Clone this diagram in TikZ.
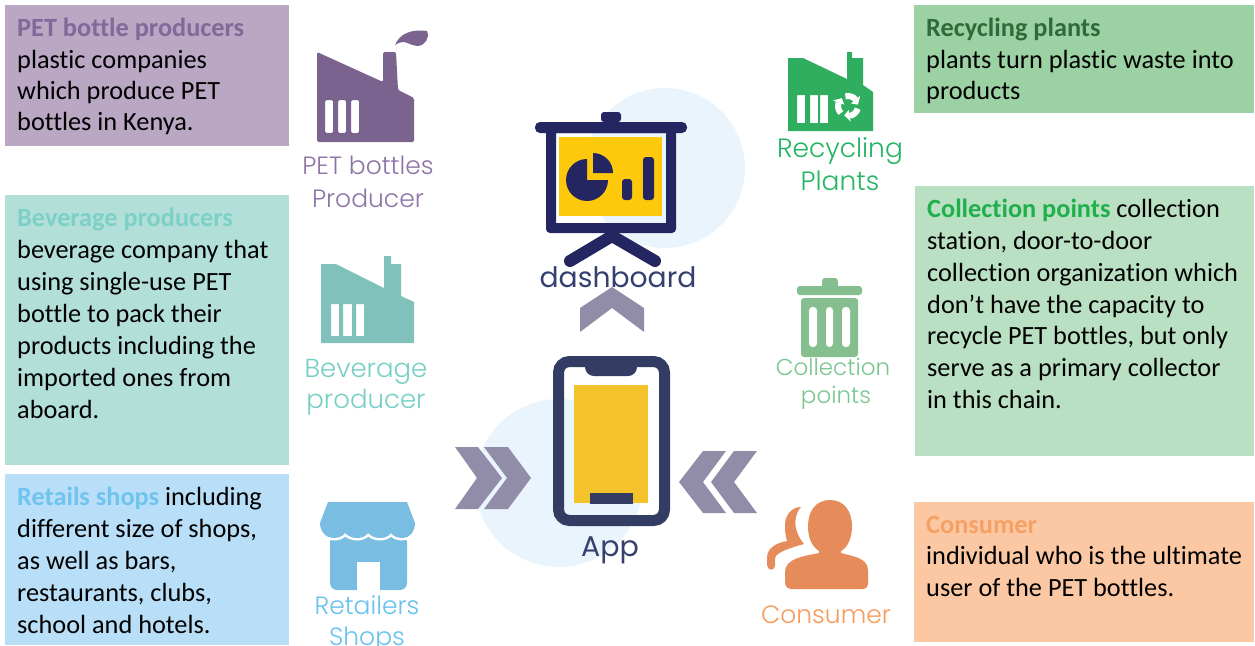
\documentclass[tikz,border=0pt]{standalone}
\usepackage{fontspec}
\setmainfont[Ligatures=NoCommon]{Carlito}
\newfontfamily\lblfont{Poppins Light}
\newfontfamily\lbldark{Poppins}
\definecolor{pPurple}{HTML}{B9A7C4}\definecolor{tPurple}{HTML}{7F6A9A}\definecolor{iPurple}{HTML}{7B6390}\definecolor{lPurple}{HTML}{8E73A6}
\definecolor{pTeal}{HTML}{B2E0D8}\definecolor{tTeal}{HTML}{7CD0C6}\definecolor{iTeal}{HTML}{81C1BB}\definecolor{lTeal}{HTML}{76CFC6}
\definecolor{pBlue}{HTML}{B8DFF7}\definecolor{tBlue}{HTML}{6FC3EE}\definecolor{iBlue}{HTML}{7ABDE3}\definecolor{lBlue}{HTML}{66C2EE}
\definecolor{pGreenA}{HTML}{9CD2A3}\definecolor{tGreenA}{HTML}{2F6B3A}\definecolor{iGreenA}{HTML}{2EAE5E}\definecolor{lGreenA}{HTML}{25B463}
\definecolor{pGreenB}{HTML}{B9E0C2}\definecolor{tGreenB}{HTML}{1FAF4B}\definecolor{iGreenB}{HTML}{85BF8F}\definecolor{lGreenB}{HTML}{79C68F}
\definecolor{pOrange}{HTML}{FBC8A3}\definecolor{tOrange}{HTML}{F5A064}\definecolor{iOrange}{HTML}{E58C5A}\definecolor{lOrange}{HTML}{F79A5B}
\definecolor{navyA}{HTML}{232660}\definecolor{navyB}{HTML}{333D63}\definecolor{dashT}{HTML}{35406F}
\definecolor{haze}{HTML}{EAF4FC}\definecolor{chev}{HTML}{918DA8}
\definecolor{gold}{HTML}{FFC90B}\definecolor{amber}{HTML}{F4C22B}
\tikzset{
 panel/.style={anchor=north west,inner sep=0pt,outer sep=0pt,draw=none},
 body/.style={anchor=north west,inner sep=0pt,align=left,text=black,font=\fontsize{26.3}{#1}\selectfont},
 lbl/.style={anchor=base,inner sep=0pt,font=\lblfont\fontsize{#1}{#1}\selectfont},
 lbld/.style={anchor=base,inner sep=0pt,text=dashT,font=\lbldark\fontsize{#1}{#1}\selectfont},
 chevron/.style={fill=chev,draw=none},
}
\begin{document}
\begin{tikzpicture}[x=1pt,y=-1pt]
\useasboundingbox (0,0) rectangle (1255,645);
\clip (0,0) rectangle (1255,645);
% panels
\node[panel,fill=pPurple,minimum width=284pt,minimum height=141pt] (p1) at (5,5) {};
\node[panel,fill=pTeal,minimum width=284pt,minimum height=270pt] (p2) at (5,195) {};
\node[panel,fill=pBlue,minimum width=284pt,minimum height=171pt] (p3) at (5,474) {};
\node[panel,fill=pGreenA,minimum width=340pt,minimum height=108pt] (p4) at (914,5) {};
\node[panel,fill=pGreenB,minimum width=339pt,minimum height=270pt] (p5) at (915,186) {};
\node[panel,fill=pOrange,minimum width=340pt,minimum height=140pt] (p6) at (914,502) {};
% panel texts
\node[body=31.4] (t1) at (17,18) {\textbf{\textcolor{tPurple}{PET bottle producers}}\\plastic companies\\which produce PET\\bottles in Kenya.};
\node[body=32] (t2) at (17,208) {\textbf{\textcolor{tTeal}{Beverage producers}}\\beverage company that\\using single-use PET\\bottle to pack their\\products including the\\imported ones from\\aboard.};
\node[body=32] (t3) at (17,487) {\textbf{\textcolor{tBlue}{Retails shops}} including\\different size of shops,\\as well as bars,\\restaurants, clubs,\\school and hotels.};
\node[body=31.4] (t4) at (926,18) {\textbf{\textcolor{tGreenA}{Recycling plants}}\\plants turn plastic waste into\\products};
\node[body=31.8] (t5) at (927,199) {\textbf{\textcolor{tGreenB}{Collection points}} collection\\station, door-to-door\\collection organization which\\don’t have the capacity to\\recycle PET bottles, but only\\serve as a primary collector\\in this chain.};
\node[body=31.5] (t6) at (926,516) {\textbf{\textcolor{tOrange}{Consumer}}\\individual who is the ultimate\\user of the PET bottles.};
% haze circles
\fill[haze] (665,168) circle (80);
\fill[haze] (559,483) circle (84);
% PET factory
\fill[iPurple,even odd rule,rounded corners=1.5pt] (317,52) -- (383,82) -- (383,52) -- (396,52) -- (398,90) -- (414,98) -- (414,142) -- (317,142) -- cycle
 (325,100) rectangle (333,133) (338,100) rectangle (346,133) (351,100) rectangle (359,133);
\fill[iPurple] (395,45) .. controls (400,33) and (412,29) .. (427,31) .. controls (430,38) and (425,46) .. (417,46) .. controls (410,46) and (405,38) .. (395,45) -- cycle;
% beverage factory
\fill[iTeal,even odd rule] (321,264) -- (336,264) -- (384,288) -- (384,256) -- (391,256) -- (391,264) -- (401,264) -- (401,296) -- (414,302) -- (414,343) -- (321,343) -- cycle
 (331,304) rectangle (339,336) (343,304) rectangle (352,336) (356,304) rectangle (364,336);
% store
\fill[iBlue,rounded corners=7pt] (330,535) -- (407,535) -- (407,590) -- (330,590) -- cycle;
\fill[white] (357,562) rectangle (380,591);
\def\awning{(328,502) -- (407,502) -- (415,523) .. controls (415,531) and (410,538) .. (403,538) .. controls (397,538) and (393,536) .. (391,533) .. controls (388,537) and (384,538) .. (380,538) .. controls (375,538) and (371,536) .. (368,533) .. controls (365,537) and (361,538) .. (357,538) .. controls (352,538) and (348,536) .. (345,533) .. controls (342,537) and (338,538) .. (333,538) .. controls (326,538) and (320,531) .. (320,523) -- cycle}
\fill[iBlue,draw=white,line width=5pt,line join=round] \awning;
\fill[iBlue] \awning;
% dashboard board
\fill[navyA,rounded corners=3pt] (601,122) -- (601,112) -- (621,112) -- (621,122) -- cycle;
\fill[navyA,rounded corners=5pt] (535,122) rectangle (687,133);
\fill[navyA,even odd rule] (546,128) -- (676,128) -- (676,229) arc[start angle=0,end angle=90,radius=4] -- (550,233) arc[start angle=90,end angle=180,radius=4] -- cycle (556,133) rectangle (666,223);
\fill[gold] (559,137) rectangle (662,216);
\draw[navyA,line width=12pt,line cap=round] (570,261) -- (612,236) -- (655,261);
\fill[navyA] (587,180) -- (587,159) arc[start angle=90,end angle=360,radius=21,y radius=-21] -- cycle;
\fill[navyA] (593,173) -- (593,153) arc[start angle=-90,end angle=0,radius=20] -- cycle;
\fill[navyA,rounded corners=3pt] (622,179) rectangle (632,200);
\fill[navyA,rounded corners=3pt] (643,157) rectangle (654,200);
% up chevron
\fill[chevron] (612,287) -- (644,308) -- (644,332) -- (612,308) -- (580,332) -- (580,308) -- cycle;
% phone
\draw[navyB,line width=11pt,rounded corners=11pt] (558.5,361.5) rectangle (664.5,520.5);
\fill[navyB] (585,367) -- (637,367) arc[start angle=0,end angle=90,radius=9] -- (594,376) arc[start angle=90,end angle=180,radius=9] -- cycle;
\fill[amber] (574,385) rectangle (648,503);
\fill[navyB] (590,493) rectangle (633,504);
% side chevrons
\fill[chevron] (455,447) -- (478,447) -- (502,478) -- (478,509) -- (455,509) -- (477,478) -- cycle;
\fill[chevron] (484,447) -- (508,447) -- (531,478) -- (508,509) -- (484,509) -- (507,478) -- cycle;
\fill[chevron] (679,482) -- (703,451) -- (726,451) -- (703,482) -- (726,513) -- (703,513) -- cycle;
\fill[chevron] (711,482) -- (734,451) -- (757,451) -- (734,482) -- (757,513) -- (734,513) -- cycle;
% recycling plant
\fill[iGreenA,even odd rule] (788,58) -- (803,58) -- (847,79) -- (847,52) -- (852,52) -- (852,58) -- (863,58) -- (863,85) -- (873,92) -- (873,131) -- (788,131) -- cycle
 (797,95) rectangle (805,123) (810,95) rectangle (818,123) (820,95) rectangle (828,123);
\begin{scope}[shift={(848,106)}]
\foreach \a in {0,120,240}{
 \begin{scope}[rotate=\a]
 \draw[white,line width=6pt] (15:10) arc[start angle=15,end angle=80,radius=10];
 \fill[white] (80:4) -- (80:16) -- (112:10) -- cycle;
 \end{scope}}
\end{scope}
% trash
\fill[iGreenB,rounded corners=3pt] (822,292) -- (822,278) -- (838,278) -- (838,292) -- cycle;
\fill[iGreenB,rounded corners=3pt] (797,295) -- (797,286) -- (862,286) -- (862,295) -- cycle;
\fill[iGreenB,rounded corners=3pt] (801,298) -- (858,298) -- (858,357) -- (801,357) -- cycle;
\fill[white,rounded corners=3.5pt] (809,307) rectangle (817,347);
\fill[white,rounded corners=3.5pt] (826,307) rectangle (833,347);
\fill[white,rounded corners=3.5pt] (842,307) rectangle (850,347);
% consumer
\fill[iOrange] (830,500) .. controls (816,500) and (808,511) .. (808,526) .. controls (808,540) and (813,547) .. (819,551) -- (819,553) .. controls (805,556) and (785,558) .. (785,572) -- (785,582) .. controls (785,587) and (788,589) .. (792,589) -- (862,589) .. controls (866,589) and (868,587) .. (868,583) -- (868,570) .. controls (868,558) and (852,556) .. (841,553) -- (841,551) .. controls (848,547) and (852,538) .. (852,526) .. controls (852,511) and (844,500) .. (830,500) -- cycle;
\fill[iOrange] (801,507) .. controls (791,507) and (784,516) .. (785,528) .. controls (785,533) and (786,537) .. (787,541) .. controls (776,543) and (767,548) .. (767,558) -- (767,565) .. controls (768,571) and (774,571) .. (775,566) -- (775,558) .. controls (776,552) and (793,547) .. (804,544) .. controls (797,536) and (790,520) .. (801,507) -- cycle;
% labels
\node[lbl=25,text=lPurple] (l1a) at (368,174) {PET bottles};
\node[lbl=25,text=lPurple] (l1b) at (368,207) {Producer};
\node[lbl=26,text=lTeal] (l2a) at (366,377) {Beverage};
\node[lbl=26,text=lTeal] (l2b) at (366,408) {producer};
\node[lbl=25,text=lBlue] (l3a) at (367,614) {Retailers};
\node[lbl=25,text=lBlue] (l3b) at (367,645) {Shops};
\node[lbld=28.2] (l4) at (618,287) {dashboard};
\node[lbld=28.5] (l5) at (610,556) {App};
\node[lbl=26.5,text=lGreenA] (l6a) at (840,157) {Recycling};
\node[lbl=26.5,text=lGreenA] (l6b) at (840,190) {Plants};
\node[lbl=23,text=lGreenB] (l7a) at (833,375) {Collection};
\node[lbl=23,text=lGreenB] (l7b) at (836,403) {points};
\node[lbl=25,text=lOrange] (l8) at (826,623) {Consumer};
\end{tikzpicture}
\end{document}
